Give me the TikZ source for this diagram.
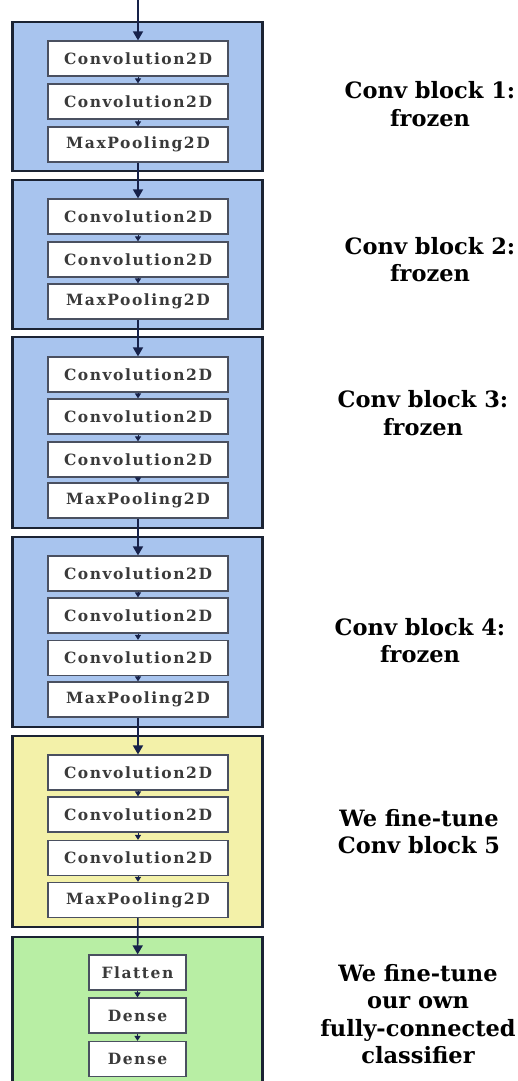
\documentclass[tikz,border=0pt]{standalone}
\usepackage{fontspec}
\usetikzlibrary{arrows.meta}
\newfontfamily\boxfont[LetterSpace=10]{DejaVu Serif}
\newfontfamily\lblfont{DejaVu Serif}
\definecolor{blkblue}{HTML}{A8C4EE}
\definecolor{blkyellow}{HTML}{F3F1A9}
\definecolor{blkgreen}{HTML}{B8EEA4}
\definecolor{frameC}{HTML}{1B2333}
\definecolor{boxC}{HTML}{4A5060}
\definecolor{txtC}{HTML}{3A3A3A}
\definecolor{arrC}{HTML}{17224A}
\begin{document}
\begin{tikzpicture}[x=1bp,y=-1bp,
  frame/.style={line width=2.4bp, draw=frameC},
  layer/.style={draw=boxC, line width=1.2bp, fill=white, minimum width=180bp, minimum height=35bp, inner sep=0pt, text=txtC, font={\boxfont\bfseries\fontsize{15.5bp}{17bp}\selectfont}},
  slayer/.style={layer, minimum width=97bp},
  flow/.style={draw=arrC, line width=1.6bp, -{Triangle[width=10bp,length=9bp]}},
  sflow/.style={draw=arrC, line width=1bp, -{Triangle[width=6bp,length=5bp]}},
  lbl/.style={align=center, text=black, font={\lblfont\bfseries\fontsize{22.5bp}{27.5bp}\selectfont}}]
\path[use as bounding box, clip] (0,0) rectangle (518,1081);
\fill[white] (0,0) rectangle (518,1081);
% frames
\draw[frame, fill=blkblue] (12.5,22) rectangle (262.5,171);
\draw[frame, fill=blkblue] (12.5,180) rectangle (262.5,329);
\draw[frame, fill=blkblue] (12.5,337) rectangle (262.5,528);
\draw[frame, fill=blkblue] (12.5,537) rectangle (262.5,727);
\draw[frame, fill=blkyellow] (12.5,736) rectangle (262.5,927);
\draw[frame, fill=blkgreen] (12.5,937) rectangle (262.5,1100);
% block 1
\node[layer] (a1) at (138,58.5) {Convolution2D};
\node[layer] (a2) at (138,101.5) {Convolution2D};
\node[layer] (a3) at (138,144.5) {MaxPooling2D};
% block 2
\node[layer] (b1) at (138,216.5) {Convolution2D};
\node[layer] (b2) at (138,259.5) {Convolution2D};
\node[layer] (b3) at (138,301.5) {MaxPooling2D};
% block 3
\node[layer] (c1) at (138,374.5) {Convolution2D};
\node[layer] (c2) at (138,416.5) {Convolution2D};
\node[layer] (c3) at (138,459.5) {Convolution2D};
\node[layer] (c4) at (138,500.5) {MaxPooling2D};
% block 4
\node[layer] (d1) at (138,573.5) {Convolution2D};
\node[layer] (d2) at (138,615.5) {Convolution2D};
\node[layer] (d3) at (138,658) {Convolution2D};
\node[layer] (d4) at (138,699.5) {MaxPooling2D};
% block 5
\node[layer] (e1) at (138,772.5) {Convolution2D};
\node[layer] (e2) at (138,814.5) {Convolution2D};
\node[layer] (e3) at (138,858) {Convolution2D};
\node[layer] (e4) at (138,900) {MaxPooling2D};
% block 6
\node[slayer] (f1) at (137.5,972.5) {Flatten};
\node[slayer] (f2) at (137.5,1015.5) {Dense};
\node[slayer] (f3) at (137.5,1059) {Dense};
% input
\coordinate (in) at (138,0);
\draw[flow] (in) -- (a1.north);
% arrows inside blocks
\draw[sflow] (a1) -- (a2);
\draw[sflow] (a2) -- (a3);
\draw[sflow] (b1) -- (b2);
\draw[sflow] (b2) -- (b3);
\draw[sflow] (c1) -- (c2);
\draw[sflow] (c2) -- (c3);
\draw[sflow] (c3) -- (c4);
\draw[sflow] (d1) -- (d2);
\draw[sflow] (d2) -- (d3);
\draw[sflow] (d3) -- (d4);
\draw[sflow] (e1) -- (e2);
\draw[sflow] (e2) -- (e3);
\draw[sflow] (e3) -- (e4);
\draw[sflow] (f1) -- (f2);
\draw[sflow] (f2) -- (f3);
% arrows between blocks
\draw[flow] (a3) -- (b1);
\draw[flow] (b3) -- (c1);
\draw[flow] (c4) -- (d1);
\draw[flow] (d4) -- (e1);
\draw[flow] (e4) -- (f1);
% labels
\node[lbl] (l1) at (430,104) {Conv block 1:\\frozen};
\node[lbl] (l2) at (430,259.5) {Conv block 2:\\frozen};
\node[lbl] (l3) at (423,413) {Conv block 3:\\frozen};
\node[lbl] (l4) at (420,640.5) {Conv block 4:\\frozen};
\node[lbl] (l5) at (419,831.5) {We fine-tune\\Conv block 5};
\node[lbl] (l6) at (418,1014) {We fine-tune\\our own\\fully-connected\\classifier};
\end{tikzpicture}
\end{document}
